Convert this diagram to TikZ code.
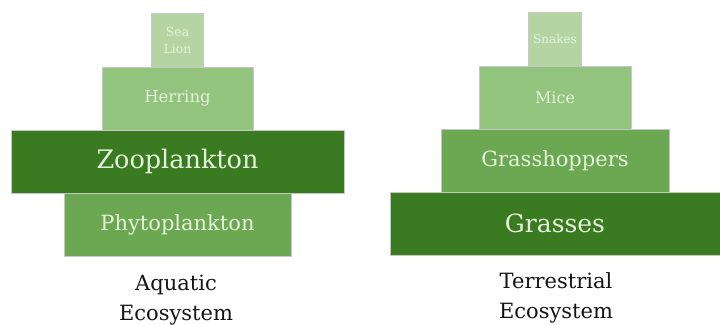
\documentclass[tikz,border=0pt]{standalone}
\usepackage{fontspec}
\setmainfont{DejaVu Serif}
\usetikzlibrary{positioning}

\definecolor{gTop}{HTML}{B4D5A2}
\definecolor{gMid}{HTML}{93C47D}
\definecolor{gLow}{HTML}{6CA852}
\definecolor{gDark}{HTML}{3A7A20}
\definecolor{gText}{HTML}{E4F2DC}

\tikzset{
  layer/.style={draw=black!22, line width=0.4pt, inner sep=0pt, outer sep=0pt,
    text=gText, align=center, minimum height=63pt},
  caption/.style={align=center, text=black!92,
    font=\fontsize{21}{30}\selectfont}
}

\begin{document}
\begin{tikzpicture}[x=1pt,y=-1pt]
\useasboundingbox (0,0) rectangle (720,324);

% --- Aquatic ---
\node[layer, fill=gLow, minimum width=227pt,
  font=\fontsize{21}{25}\selectfont] (phyto) at (177.5,224.5) {Phytoplankton};
\node[layer, fill=gDark, minimum width=333pt,
  font=\fontsize{25.5}{30}\selectfont, above=0pt of phyto] (zoo) {Zooplankton};
\node[layer, fill=gMid, minimum width=151pt,
  font=\fontsize{16.5}{20}\selectfont, above=0pt of zoo] (herring) {Herring};
\node[layer, fill=gTop, minimum width=52pt, minimum height=54pt,
  font=\fontsize{12.5}{17}\selectfont, above=0pt of herring] (sealion) {Sea\\Lion};
\node[caption, anchor=base] (aqcap) at (176,320) {Aquatic\\Ecosystem};

% --- Terrestrial ---
\node[layer, fill=gDark, minimum width=330pt,
  font=\fontsize{25}{30}\selectfont] (grass) at (555,223.5) {Grasses};
\node[layer, fill=gLow, minimum width=228pt,
  font=\fontsize{21}{25}\selectfont, above=0pt of grass] (hopper) {Grasshoppers};
\node[layer, fill=gMid, minimum width=152pt,
  font=\fontsize{16}{20}\selectfont, above=0pt of hopper] (mice) {Mice};
\node[layer, fill=gTop, minimum width=53pt, minimum height=54pt,
  font=\fontsize{12}{15}\selectfont, above=0pt of mice] (snakes) {Snakes};
\node[caption, anchor=base] (tecap) at (556,318) {Terrestrial\\Ecosystem};

\end{tikzpicture}
\end{document}
